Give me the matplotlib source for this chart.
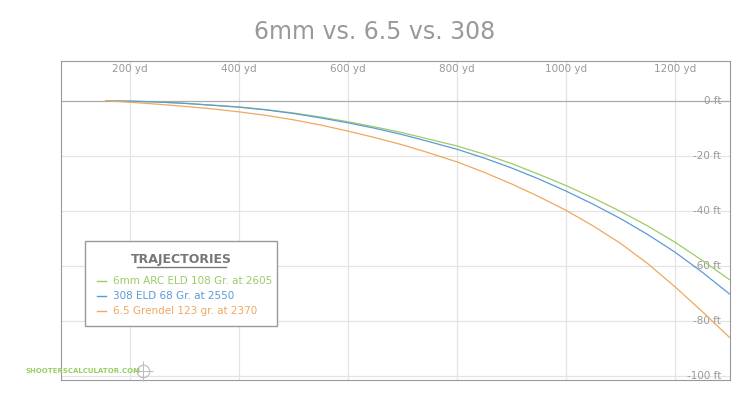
import matplotlib
matplotlib.use("Agg")
import matplotlib.pyplot as plt
from matplotlib.patches import Rectangle
from matplotlib import font_manager

# trajectories (yards vs drop in ft)
YARDS = [155, 200, 250, 300, 350, 400, 450, 500, 550, 600, 650, 700, 750, 800,
         850, 900, 950, 1000, 1050, 1100, 1150, 1200, 1250, 1300]
ARC = [0, -0.1, -0.4, -0.9, -1.5, -2.2, -3.2, -4.4, -5.9, -7.6, -9.5, -11.6, -14, -16.4,
       -19.4, -22.8, -26.7, -30.8, -35.3, -40.2, -45.5, -51.4, -58, -65]
ELD308 = [0, -0.1, -0.4, -0.9, -1.6, -2.3, -3.3, -4.6, -6.2, -8, -10, -12.3, -14.9, -17.6,
          -20.8, -24.4, -28.4, -32.8, -37.6, -42.8, -48.6, -55, -62.3, -70.2]
GRENDEL = [0, -0.5, -1.2, -2, -2.9, -4, -5.3, -6.9, -8.8, -11, -13.4, -16, -19, -22.2,
           -26, -30.2, -34.8, -39.8, -45.5, -51.8, -59.2, -67.6, -76.6, -86]
NAMES = ["6mm ARC ELD 108 Gr. at 2605", "308 ELD 68 Gr. at 2550", "6.5 Grendel 123 gr. at 2370"]
X_TICKS = [200, 400, 600, 800, 1000, 1200]
Y_TICKS = [0, -20, -40, -60, -80, -100]

GREEN = "#9ccc65"
BLUE = "#5b9bd5"
ORANGE = "#f0a860"
TX = "#999999"
GRID = "#e4e4e4"

# narrow font for the watermark / legend title if available
_names = {f.name for f in font_manager.fontManager.ttflist}
NARROW = "Liberation Sans Narrow" if "Liberation Sans Narrow" in _names else "DejaVu Sans"
WM_SIZE = 7 if NARROW != "DejaVu Sans" else 5

fig = plt.figure(figsize=(7.5, 4.0), dpi=100, facecolor="white")
ax = fig.add_axes([61 / 750, 1 - 380 / 400, 669 / 750, 319 / 400])
ax.set_xlim(73, 1301)
ax.set_ylim(-101.5, 14.5)

for x in X_TICKS:
    ax.axvline(x, color=GRID, lw=0.9, zorder=0)
    ax.text(x, 11.5, f"{x} yd", ha="center", va="center", color=TX, fontsize=7.5)
for y in Y_TICKS:
    ax.axhline(y, color=("#aaaaaa" if y == 0 else GRID), lw=0.9, zorder=0)
    ax.text(1285, y, f"{y} ft", ha="right", va="center", color=TX, fontsize=7.5)

for vals, col in zip([ARC, ELD308, GRENDEL], [GREEN, BLUE, ORANGE]):
    ax.plot(YARDS, vals, color=col, lw=0.9, zorder=3)

ax.set_xticks([])
ax.set_yticks([])
for s in ax.spines.values():
    s.set_color("#999999")

fig.text(0.5, 1 - 32 / 400, "6mm vs. 6.5 vs. 308", ha="center", va="center",
         color="#999999", fontsize=17)

# legend box
fig.patches.append(Rectangle((85 / 750, 1 - 326 / 400), 192 / 750, 85 / 400,
                             transform=fig.transFigure, fc="white", ec="#999999", lw=1, zorder=5))
fig.text(181 / 750, 1 - 259 / 400, "TRAJECTORIES", ha="center", va="center", color="#777777",
         fontsize=9, fontweight="bold", family=NARROW, zorder=6)
fig.lines.append(plt.Line2D([137 / 750, 226 / 750], [1 - 267 / 400] * 2, transform=fig.transFigure,
                            color="#777777", lw=1, zorder=6))
for i, (name, col) in enumerate(zip(NAMES, [GREEN, BLUE, ORANGE])):
    yy = 1 - (281 + i * 15) / 400
    fig.lines.append(plt.Line2D([97 / 750, 106 / 750], [yy, yy], transform=fig.transFigure,
                                color=col, lw=1, zorder=6))
    fig.text(113 / 750, yy, name, ha="left", va="center", color=col, fontsize=7.5, zorder=6)

# watermark + crosshair logo
fig.text(25 / 750, 1 - 371 / 400, "SHOOTERSCALCULATOR.COM", ha="left", va="center",
         color=GREEN, fontsize=WM_SIZE, fontweight="bold", family=NARROW)
cx, cy = 143 / 750, 1 - 371 / 400
fig.lines.append(plt.Line2D([cx], [cy], transform=fig.transFigure, marker="o", ms=9,
                            mfc="none", mec="#bbbbbb", mew=0.8))
fig.lines.append(plt.Line2D([cx], [cy], transform=fig.transFigure, marker="+", ms=14,
                            mec="#bbbbbb", mew=0.7))

fig.savefig("out.png", dpi=100, facecolor="white")
